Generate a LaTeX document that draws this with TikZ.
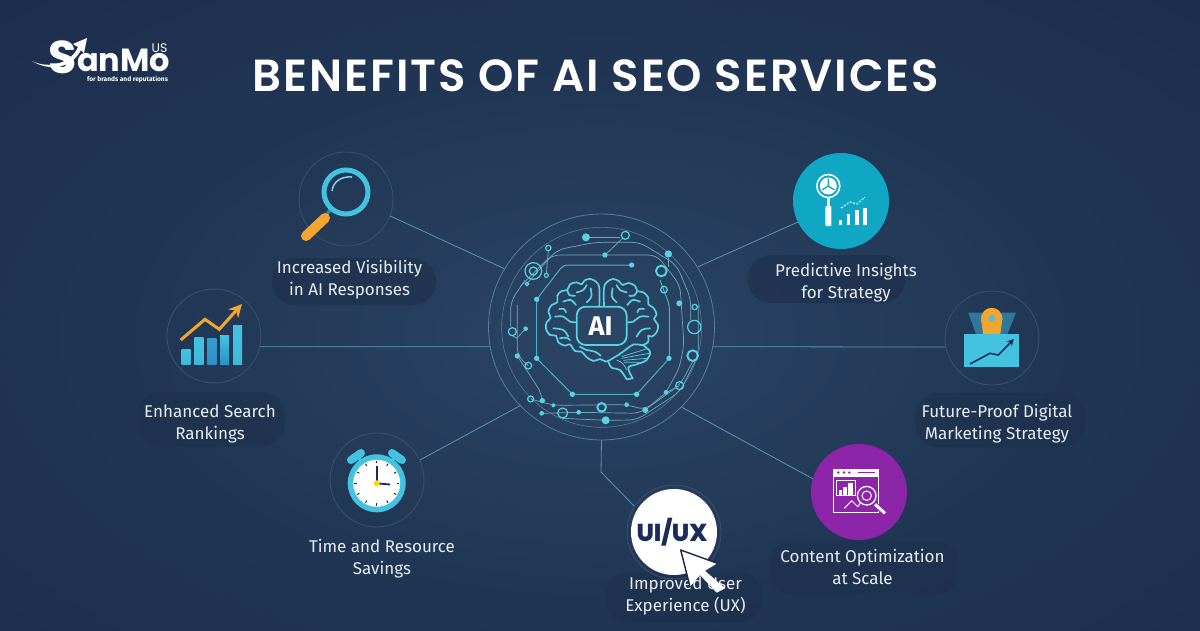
\documentclass[tikz,border=0pt]{standalone}
\usepackage{fontspec}
\setmainfont{Fira Sans}
\newfontfamily\titlefont[LetterSpace=4.3]{Poppins SemiBold}
\newfontfamily\logofont{Poppins}
\newfontfamily\uxfont{Poppins ExtraBold}
\usepackage{tikz}
\usetikzlibrary{arrows.meta, positioning}
\tikzset{>=stealth}
\definecolor{bgin}{HTML}{2B4564}
\definecolor{bgmid}{HTML}{203554}
\definecolor{bgout}{HTML}{1A2745}
\definecolor{ringline}{HTML}{3B4F6C}
\definecolor{linkline}{HTML}{5A97B0}
\definecolor{glow}{HTML}{57D3E2}
\definecolor{faint}{HTML}{6FA9BC}
\definecolor{pillc}{HTML}{1A2742}
\definecolor{labelc}{HTML}{E6EDF3}
\definecolor{cyanc}{HTML}{43C3E0}
\definecolor{barblue}{HTML}{2E8FC6}
\definecolor{orangec}{HTML}{F2A62F}
\definecolor{navyc}{HTML}{1D2B5C}
\definecolor{purplec}{HTML}{8C25A8}
\definecolor{tealc}{HTML}{0FA7C3}
\pgfdeclareradialshading{bgglow}{\pgfpoint{0bp}{0bp}}{color(0bp)=(bgin); color(20bp)=(bgmid); color(50bp)=(bgout)}
\tikzset{
	iconring/.style={circle, draw=ringline, line width=0.9pt, minimum size=94pt, inner sep=0pt},
	iconfill/.style={circle, minimum size=96pt, inner sep=0pt},
	labeltext/.style={text=labelc, align=center, font=\fontsize{17}{22}\selectfont, inner sep=0pt},
	labelpill/.style={fill=pillc, fill opacity=#1, rounded corners=23pt},
	linkline/.style={draw=linkline, line width=0.8pt},
	corecircuit/.style={draw=faint, line width=0.7pt, rounded corners=8pt},
	corebright/.style={draw=glow!75!bgin, line width=1pt, rounded corners=4pt},
	dotc/.style={fill=glow},
	ringc/.style={draw=glow, line width=1.2pt},
	brainline/.style={draw=glow, line width=1.7pt, line join=round, line cap=round}
}

\begin{document}
\begin{tikzpicture}[x=1pt, y=-1pt]
	\useasboundingbox (0,0) rectangle (1200,630);
	\shade[shading=bgglow] (0,0) rectangle (1200,670);
	% title and logo
	\node[text=white, inner sep=0pt, font=\titlefont\fontsize{45}{50}\selectfont] (title) at (596,76) {BENEFITS OF AI SEO SERVICES};
	\node[text=white, inner sep=0pt, font=\logofont\bfseries\fontsize{46}{46}\selectfont] (logoS) at (63,57) {S};
	\node[text=white, inner sep=0pt, anchor=base west, font=\logofont\bfseries\fontsize{32}{32}\selectfont] (logoname) at (77,71.5) {anMo};
	\node[text=white, inner sep=0pt, font=\logofont\fontsize{12.5}{13}\selectfont] (logous) at (159.5,48) {US};
	\node[text=white, inner sep=0pt, font=\bfseries\fontsize{6.6}{7}\selectfont] (logotag) at (127.5,80) {for brands and reputations};
	\fill[white] (32,61) .. controls (50,70) and (72,62) .. (78,47) -- (73,44) -- (87,38) -- (84,53) -- (81,50) .. controls (72,68) and (50,72) .. (32,61);
	% label backdrops
	\fill[labelpill=0.4] (272,258) rectangle (436,305);
	\fill[labelpill=0.25] (137,392) rectangle (285,446);
	\fill[labelpill=0.45] (748,255) rectangle (905,303);
	\fill[labelpill=0.25] (915,393) rectangle (1085,447);
	\fill[labelpill=0.2] (770,541) rectangle (958,595);
	\fill[labelpill=0.25] (605,572) rectangle (762,622);
	% icon circles
	\node[iconring] (visibility) at (346,199) {};
	\node[iconring] (rankings) at (214,336) {};
	\node[iconring] (savings) at (377,480) {};
	\node[iconring] (future) at (992,338) {};
	\node[iconfill, fill=tealc] (insights) at (841,201) {};
	\node[iconfill, fill=purplec] (content) at (859,492) {};
	\node[iconring] (ux) at (674,532) {};
	\fill[white] (ux.center) circle[radius=43];
	\node[circle, draw=faint!60!bgin, line width=0.8pt, minimum size=226pt, inner sep=0pt] (core) at (601.5,327) {};
	\coordinate (uxbend) at (601,472);
	% connectors
	\draw[linkline] (visibility.-21) -- (core.149);
	\draw[linkline] (rankings.-13) -- (core.190);
	\draw[linkline] (savings.25) -- (core.224);
	\draw[linkline] (core.270) -- (uxbend) -- (ux.147);
	\draw[linkline] (content.164) -- (core.-45);
	\draw[linkline] (insights.206) -- (core.32);
	\draw[linkline] (future.191) -- (core.-10);
	% labels
	\node[labeltext] (lvisibility) at (349.5,280) {Increased Visibility\\in AI Responses};
	\node[labeltext] (lrankings) at (210,424) {Enhanced Search\\Rankings};
	\node[labeltext] (lsavings) at (382,559) {Time and Resource\\Savings};
	\node[labeltext] (lux) at (685.5,596) {Improved User\\Experience (UX)};
	\node[labeltext] (lcontent) at (862.5,567) {Content Optimization\\at Scale};
	\node[labeltext] (linsights) at (846,283) {Predictive Insights\\for Strategy};
	\node[labeltext] (lfuture) at (997,424) {Future-Proof Digital\\Marketing Strategy};
	% magnifier
	\draw[line width=3.5pt, draw=cyanc!70!black] (331,209) -- (327,214);
	\draw[orangec, line width=10pt, line cap=round] (325,218) -- (306,236);
	\draw[cyanc, line width=5pt] (346,192) circle[radius=22];
	\draw[cyanc!70, line width=1.5pt] (332,191) .. controls (333,182) and (341,176) .. (352,177);
	% bars and arrow
	\shade[top color=cyanc, bottom color=cyanc!80!barblue] (181.7,349) rectangle (190.7,364);
	\shade[top color=cyanc, bottom color=cyanc!80!barblue] (194.3,337.7) rectangle (203.3,364);
	\shade[top color=barblue!70!cyanc, bottom color=barblue] (207.3,338.7) rectangle (216.3,364);
	\shade[top color=cyanc, bottom color=barblue] (220,335.3) rectangle (229,364);
	\shade[top color=cyanc, bottom color=cyanc!80!barblue] (233,325.7) rectangle (242,364);
	\draw[orangec, line width=3pt, -{Stealth[length=13pt,width=13pt]}] (180.7,340) -- (205,319.3) -- (219.3,329.3) -- (242,304);
	% clock
	\draw[cyanc, line width=8pt, line cap=round] (351,460) -- (361,453);
	\draw[cyanc, line width=8pt, line cap=round] (402,460) -- (392,453);
	\draw[cyanc, line width=3pt] (359,458) -- (362,463);
	\draw[cyanc, line width=3pt] (394,458) -- (391,463);
	\fill[cyanc] (376.7,483.3) circle[radius=29];
	\fill[white] (376.7,483.3) circle[radius=23.5];
	\foreach \ang in {0,30,...,330}
		\draw[black!85, line width=1pt] (\ang:0pt) ++(376.7,483.3) ++(\ang:20) -- ++(\ang:2.5);
	\draw[navyc, line width=1.8pt] (376.7,483.3) -- (376.7,466);
	\draw[navyc, line width=1.8pt] (376.7,483.3) -- (390,484.5);
	\fill[yellow!80!orange] (376.7,483.3) circle[radius=3];
	% ui/ux
	\node[text=navyc, inner sep=0pt, font=\uxfont\fontsize{24.5}{26}\selectfont] (uxmark) at (672,532.5) {UI/UX};
	\fill[white, line join=round] (680.7,550) -- (717.3,563.3) -- (705,570.7) -- (725,588.3) -- (716.7,592.7) -- (700,575) -- (690,586.7) -- cycle;
	\draw[pillc, line width=1.4pt, line join=round] (717.3,563.3) -- (680.7,550) -- (690,586.7);
	% insights icon
	\draw[white, line width=1.6pt] (828.3,186) circle[radius=11.5];
	\fill[white] (828.3,186) circle[radius=8.5];
	\draw[tealc, line width=1.3pt] (828.3,186) -- (828.3,178.5) (828.3,186) -- (822,190) (828.3,186) -- (834.5,190);
	\fill[white] (827,197) rectangle (829.6,206);
	\fill[white, rounded corners=1pt] (825.3,206) rectangle (831.3,226);
	\fill[white] (838.5,220) rectangle (841.5,225);
	\fill[white] (846.5,214) rectangle (850,225);
	\fill[white] (855,210) rectangle (858.5,225);
	\fill[white] (863,208) rectangle (866.5,225);
	\draw[white, line width=1pt, dash pattern=on 2pt off 1.5pt] (841,208) -- (850,202) -- (857,204) -- (865,197);
	% content icon
	\draw[white, line width=1.2pt] (833.8,469.8) rectangle (878.3,512.2);
	\fill[white] (833.3,469.3) rectangle (878.8,476.5);
	\foreach \dotx in {838.3,844,849.3}
		\fill[purplec] (\dotx,472.5) circle[radius=1.3];
	\draw[purplec, line width=0.9pt] (858.3,472.5) -- (875,472.5);
	\draw[white, line width=1pt] (836,480.7) rectangle (855,495.7);
	\fill[white] (839.3,490) rectangle (842.3,495);
	\fill[white] (843.3,486.7) rectangle (847.3,495);
	\fill[white] (848.3,483.3) rectangle (852.7,495);
	\draw[white, line width=1pt] (844.3,508.3) -- (851.7,500.7) -- (857.7,506.7) -- (865,496.7);
	\fill[purplec] (866.7,495.7) circle[radius=10];
	\draw[white, line width=1.3pt] (866.7,495.7) circle[radius=9.3];
	\draw[white, line width=1pt] (866.7,495.7) circle[radius=4.7];
	\draw[purplec, line width=5pt] (874,503.5) -- (886,514.5);
	\draw[white, line width=3pt] (875,504.3) -- (885,513.3);
	% future icon
	\fill[cyanc!50!navyc] (968.3,312.7) -- (1016,312.7) -- (1006.7,336) -- (976.7,336) -- cycle;
	\fill[orangec] (991.7,318.5) circle[radius=10.7];
	\fill[orangec] (981,319) -- (1002.4,319) -- (1000,336) -- (983.4,336) -- cycle;
	\fill[cyanc] (991.7,318.3) circle[radius=3.3];
	\fill[cyanc] (964,334.3) rectangle (1019.3,366.7);
	\draw[navyc, line width=1.6pt, -{Stealth[length=7pt,width=7pt]}] (970,364) -- (990,353.3) -- (998.3,355) -- (1014,339);
	% core circuit, drawn on a 3x grid
	\begin{scope}[shift={(480,205)}, x=0.3333pt, y=-0.3333pt]
		\draw[faint, line width=0.6pt, opacity=0.6] (365,367) circle[radius=300];
		\draw[corebright] (170,460) -- (170,283) -- (250,180) -- (455,180);
		\draw[corebright] (540,225) -- (568,300) -- (568,460) -- (470,568) -- (277,568) -- (170,460);
		\draw[corecircuit] (140,237) -- (230,135) -- (345,112) -- (480,112) -- (590,180) -- (632,280) -- (632,345);
		\draw[corecircuit] (120,245) -- (215,150) -- (530,150) -- (600,240) -- (612,420) -- (598,490) -- (558,562);
		\draw[corecircuit] (92,365) -- (92,290) -- (135,225);
		\draw[corecircuit] (112,300) -- (112,453) -- (145,482);
		\draw[corecircuit] (112,453) -- (185,565) -- (187,587);
		\draw[corecircuit] (152,582) -- (220,601) -- (440,599) -- (496,615) -- (558,562) -- (599,542);
		\draw[corecircuit] (185,625) -- (296,622) -- (480,625) -- (600,540) -- (638,470);
		\draw[corecircuit] (248,640) -- (377,646) -- (470,645) -- (600,560) -- (655,450) -- (655,300);
		\draw[faint, line width=0.8pt] (318,97) -- (420,97);
		\draw[faint, line width=0.8pt] (428,100) -- (375,150);
		\draw[faint, line width=0.8pt] (205,137) -- (199,205);
		\draw[faint, line width=0.8pt] (565,158) -- (565,185);
		\draw[faint, line width=0.8pt] (137,371) -- (110,400) -- (97,392);
		\foreach \dx/\dy/\dr in {318/97/12, 565/147/11, 375/150/8, 455/180/8, 598/295/9, 170/283/8, 137/371/7, 170/460/8, 112/453/8, 567/460/8, 558/562/7, 470/568/8, 277/568/8, 440/599/7, 496/615/9, 296/622/7, 377/646/12, 185/625/7, 220/601/6, 187/587/8}
			\fill[dotc] (\dx,\dy) circle[radius=\dr];
		\foreach \dx/\dy/\dr in {436/91/12, 205/129/8, 160/198/25, 160/198/12, 199/211/6, 141/237/5, 552/254/10, 644/306/8, 643/366/20, 97/380/12, 145/482/10, 599/542/12, 152/582/9, 248/624/15}
			\draw[ringc] (\dx,\dy) circle[radius=\dr];
		\foreach \dx/\dy/\dr in {544/198/16, 638/452/16, 365/607/13}
			\draw[ringc, line width=1.9pt] (\dx,\dy) circle[radius=\dr];
		% brain
		\draw[brainline] plot[smooth, tension=0.6] coordinates {(358,302) (358,250) (350,232) (332,222) (314,226) (305,238) (290,232) (270,238) (262,255) (245,258) (232,272) (232,292) (215,300) (205,320) (212,338) (200,352) (198,372) (210,390) (228,392) (235,412) (255,422) (270,418) (285,438) (305,440) (318,455) (340,468) (360,462) (378,470) (398,460) (415,450) (440,432)};
		\draw[brainline] plot[smooth, tension=0.6] coordinates {(372,302) (372,250) (380,232) (398,222) (416,228) (428,240) (445,234) (465,242) (472,258) (490,262) (505,278) (505,298) (520,308) (530,328) (522,342) (534,360) (530,382) (515,395) (505,392) (505,410) (488,420) (462,418) (440,432)};
		\draw[brainline] plot[smooth, tension=0.6] coordinates {(488,420) (510,440) (500,465) (470,478) (445,488) (458,520)};
		\draw[brainline] (458,520) -- (440,523);
		\draw[brainline] plot[smooth, tension=0.6] coordinates {(440,523) (420,495) (395,488) (385,470)};
		\draw[brainline] plot[smooth, tension=0.6] coordinates {(290,262) (310,255) (320,240)};
		\draw[brainline] plot[smooth, tension=0.6] coordinates {(332,250) (334,275) (320,292)};
		\draw[brainline] plot[smooth, tension=0.6] coordinates {(250,290) (272,285) (288,300)};
		\draw[brainline] plot[smooth, tension=0.6] coordinates {(225,335) (250,335) (270,350) (286,352)};
		\draw[brainline] plot[smooth, tension=0.6] coordinates {(220,370) (250,375) (265,395)};
		\draw[brainline] plot[smooth, tension=0.6] coordinates {(300,425) (320,435) (345,440) (362,452)};
		\draw[brainline] plot[smooth, tension=0.6] coordinates {(262,255) (268,270) (285,272)};
		\draw[brainline] plot[smooth, tension=0.6] coordinates {(238,312) (252,312) (258,322)};
		\draw[brainline] plot[smooth, tension=0.6] coordinates {(240,400) (258,398) (270,405)};
		\draw[brainline] plot[smooth, tension=0.6] coordinates {(440,262) (420,255) (410,240)};
		\draw[brainline] plot[smooth, tension=0.6] coordinates {(398,250) (396,275) (410,292)};
		\draw[brainline] plot[smooth, tension=0.6] coordinates {(480,290) (458,285) (442,300)};
		\draw[brainline] plot[smooth, tension=0.6] coordinates {(505,335) (480,335) (460,350) (444,352)};
		\draw[brainline] plot[smooth, tension=0.6] coordinates {(510,370) (485,375) (470,395)};
		\draw[brainline] plot[smooth, tension=0.6] coordinates {(472,258) (462,272) (448,272)};
		\draw[brainline] plot[smooth, tension=0.6] coordinates {(492,312) (478,312) (472,322)};
		\draw[glow, line width=0.7pt] (425,455) -- (505,430) (425,460) -- (508,445) (430,466) -- (500,460) (432,472) -- (480,472);
		\draw[glow, line width=0.7pt] (410,465) .. controls (425,470) and (435,480) .. (440,495);
		\draw[glow, line width=1.8pt, fill=bgin, rounded corners=9pt] (290,305) rectangle (440,420);
		\node[text=white, inner sep=0pt, font=\bfseries\fontsize{27}{27}\selectfont] (coremark) at (362,362) {AI};
	\end{scope}
\end{tikzpicture}
\end{document}
